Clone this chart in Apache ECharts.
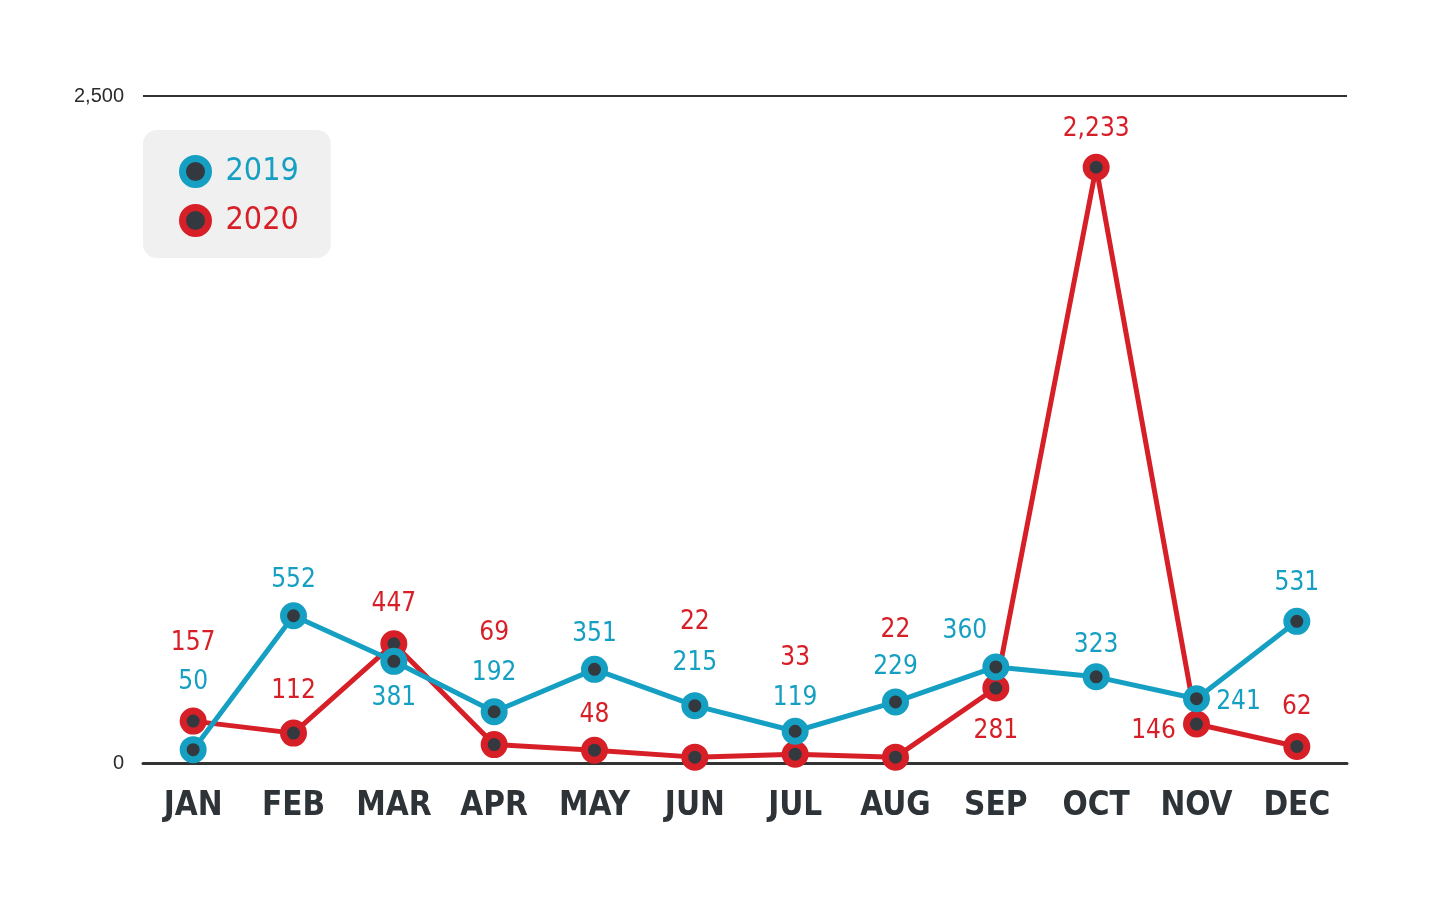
<!DOCTYPE html>
<html><head><meta charset="utf-8">
<script src="https://cdn.jsdelivr.net/npm/echarts@6/dist/echarts.min.js"></script>
<style>html,body{margin:0;padding:0;background:#fff}#c{width:1431px;height:900px}</style>
</head><body><div id="c"></div>
<script>
const months = ['JAN','FEB','MAR','APR','MAY','JUN','JUL','AUG','SEP','OCT','NOV','DEC'];
const values2019 = [50,552,381,192,351,215,119,229,360,323,241,531];
const values2020 = [157,112,447,69,48,22,33,22,281,2233,146,62];
const yTicks = [0, 2500];

// label placement (style only): [dx, dy] from point centre
const off2019 = [[0,-67],[0,-35],[0,37],[0,-39],[0,-35],[0,-42],[0,-33],[0,-35],[-31,-36],[0,-32],[42,4],[0,-38]];
const off2020 = [[0,-78],[0,-42],[0,-39],[0,-111],[0,-35],[0,-135],[0,-96],[0,-127],[0,43],[0,-38],[-43,7],[0,-39]];

const BLUE = '#159fc2', RED = '#d71f28', DARK = '#33393f';
const NARROW = '"Liberation Sans Narrow","DejaVu Sans Condensed","Roboto",sans-serif';

function mk(vals, offs){
  return vals.map((v,i)=>({value:v, label:{offset:offs[i]}}));
}
function series(name, vals, offs, color, z){
  return {
    name, type:'line', z, data: mk(vals, offs),
    symbol:'circle', symbolSize:20,
    lineStyle:{color, width:5},
    itemStyle:{color:DARK, borderColor:color, borderWidth:7},
    label:{show:true, position:'inside', color, fontFamily:NARROW, fontSize:26,
      formatter:p=>p.value.toLocaleString('en-US')},
    emphasis:{disabled:true}, animation:false
  };
}
const chart = echarts.init(document.getElementById('c'));
chart.setOption({
  animation:false,
  grid:{left:143, right:84, top:96, bottom:137},
  legend:{
    orient:'vertical', left:143, top:130,
    backgroundColor:'#f0f0f0', borderRadius:14,
    padding:[25,32,21,36],
    icon:'circle', itemWidth:26, itemHeight:26, itemGap:16,
    selectedMode:false,
    data:[
      {name:'2019', itemStyle:{color:DARK, borderColor:BLUE, borderWidth:7}, textStyle:{color:BLUE}},
      {name:'2020', itemStyle:{color:DARK, borderColor:RED, borderWidth:7}, textStyle:{color:RED}}
    ],
    textStyle:{fontFamily:NARROW, fontSize:32, lineHeight:32, padding:[0,0,0,12]}
  },
  xAxis:{
    type:'category', data:months,
    axisLine:{lineStyle:{color:'#333', width:3}},
    axisTick:{show:false},
    axisLabel:{color:'#2e3338', fontFamily:NARROW, fontWeight:'bold', fontSize:33, margin:27}
  },
  yAxis:{
    type:'value', min:0, max:2500, interval:2500,
    axisLine:{show:false}, axisTick:{show:false},
    splitLine:{lineStyle:{color:'#333', width:2}},
    axisLabel:{color:'#2b2b2b', fontFamily:'"Liberation Sans","Roboto",sans-serif', fontSize:20, margin:19,
      formatter:v=>yTicks.includes(v)?v.toLocaleString('en-US'):''}
  },
  series:[
    series('2020', values2020, off2020, RED, 2),
    series('2019', values2019, off2019, BLUE, 3)
  ]
});
</script></body></html>
